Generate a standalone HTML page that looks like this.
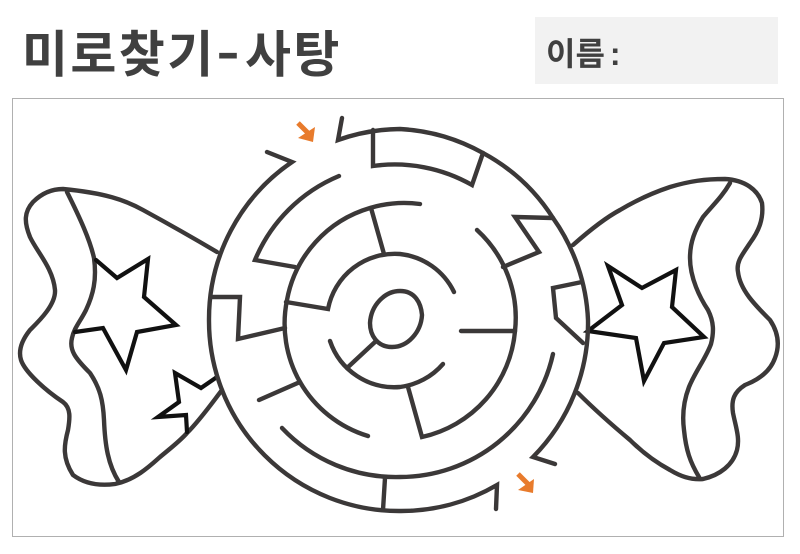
<!DOCTYPE html>
<html lang="ko"><head><meta charset="utf-8"><style>
html,body{margin:0;padding:0;background:#fff;width:800px;height:554px;overflow:hidden}
svg{display:block}
.k{font-family:"Liberation Sans","Noto Sans CJK KR",sans-serif;font-weight:700;fill:#404040}
.m{fill:none;stroke:#3b3838;stroke-width:4.4;stroke-linecap:round;stroke-linejoin:miter}
.s{fill:none;stroke:#111;stroke-width:4.2;stroke-linejoin:miter;stroke-linecap:round}
</style></head><body>
<svg width="800" height="554" viewBox="0 0 800 554" xmlns="http://www.w3.org/2000/svg">
<rect x="12.5" y="98.5" width="771" height="438" fill="#fff" stroke="#b0b0b0" stroke-width="1"/>
<rect x="535" y="17" width="243" height="67" fill="#f2f2f2"/>
<text class="k" x="22" y="72" font-size="50" letter-spacing="2.4">미로찾기<tspan x="216" y="75" font-size="72" font-weight="400">-</tspan><tspan x="245" y="72">사탕</tspan></text>
<text class="k" x="546" y="65" font-size="32">이름<tspan dx="5">:</tspan></text>

<!-- left wrapper -->
<path class="m" d="M217 252C190 236 165 222 143 210C125 200 105 193 63 189C50 189 40 195 33 202C24 212 24 222 30 237C37 252 53 268 55 290C56 305 38 322 30 330C22 340 18 350 21 360C25 372 45 390 63 402C71 408 70 418 68 430C64 445 62 458 73 475C85 484 100 486 115 484C135 480 150 466 160 457C172 447 180 441 187 433C200 420 212 403 222 390"/>
<path class="m" d="M67 192C80 218 90 240 94 258C97 280 93 295 86 310C80 322 74 328 72 338C69 350 75 358 90 373C100 388 103 400 104 420C105 445 108 465 119 482"/>
<path class="s" d="M96 260L117 278L148 259L144 297L176 325L137 332L126 370L103 328L75 332"/>
<path class="s" d="M217 377L201 388L175 373L179 402L158 417L186 415L187 432"/>

<!-- right wrapper -->
<path class="m" d="M573 245C590 230 605 218 620 210C640 198 655 192 670 187C690 181 705 179 725 179C745 180 758 190 762 203C764 220 758 232 750 243C742 255 736 262 738 272C740 290 755 305 770 320C778 332 780 345 775 358C770 372 758 380 745 385C734 392 731 400 733 413C736 428 740 438 737 450C733 465 720 475 703 479C690 480 680 476 670 470C655 462 642 452 630 440C612 425 595 410 578 393"/>
<path class="m" d="M730 183C722 197 712 206 703 217C695 230 690 242 690 258C690 278 700 298 708 310C714 322 714 332 711 344C706 358 695 372 689 387C684 400 682 415 684 430C686 450 690 462 699 477"/>
<path class="s" d="M608 266L642 288L676 270L672 307L704 337L664 343L644 381L636 338L588 331L622 305Z"/>

<!-- outer ring -->
<path class="m" d="M342 118L338 140A190 190 0 0 1 400 129A190 190 0 0 1 483 153A190 190 0 0 1 553 218A190 190 0 0 1 588 320A190 190 0 0 1 533 457L555 464"/>
<path class="m" d="M267 152L292 162A190 190 0 0 0 209 320A190 190 0 0 0 400 511A190 190 0 0 0 497 485L496 509"/>

<!-- top-left connectors -->
<path class="m" d="M211 297L240 297L238 339L285 328"/>
<path class="m" d="M339 176A156 156 0 0 0 255 260L295 267"/>
<path class="m" d="M373 130L373 166A156 156 0 0 1 472 185L483 153"/>

<!-- ring 118 -->
<path class="m" d="M420 204A118 118 0 0 0 370 208A118 118 0 0 0 287 300A118 118 0 0 0 300 382A118 118 0 0 0 368 436"/>
<path class="m" d="M259 400L300 382"/>
<path class="m" d="M477 230A119 119 0 0 1 515 331A119 119 0 0 1 422 437L408 387"/>
<path class="m" d="M461 331L515 331"/>
<path class="m" d="M553 218L515 217L539 252L503 267"/>
<path class="m" d="M582 282L553 288L556 318L583 343"/>

<!-- ring 157 lower -->
<path class="m" d="M553 354A157 157 0 0 1 400 477A157 157 0 0 1 282 428"/>
<path class="m" d="M385 478L383 510"/>

<!-- ring 3 -->
<path class="m" d="M454 292A68 68 0 0 0 400 254A68 68 0 0 0 328 309L286 302"/>
<path class="m" d="M371 208L384 254"/>
<path class="m" d="M330 341A68 68 0 0 0 400 387A68 68 0 0 0 443 364"/>
<path class="m" d="M347 368L375 342"/>
<path class="m" d="M400 291C415 291 421 303 422 315C421 332 408 347 392 347C377 347 370 335 370 323C371 305 385 291 400 291Z"/>

<!-- arrows -->
<path d="M298 123L310 135" stroke="#e87b2c" stroke-width="5" fill="none"/>
<path d="M315 127L313 142L298 138Z" fill="#e87b2c"/>
<path d="M518 474L529 485" stroke="#e87b2c" stroke-width="5" fill="none"/>
<path d="M534 479L533 493L518 490Z" fill="#e87b2c"/>
</svg>
</body></html>
